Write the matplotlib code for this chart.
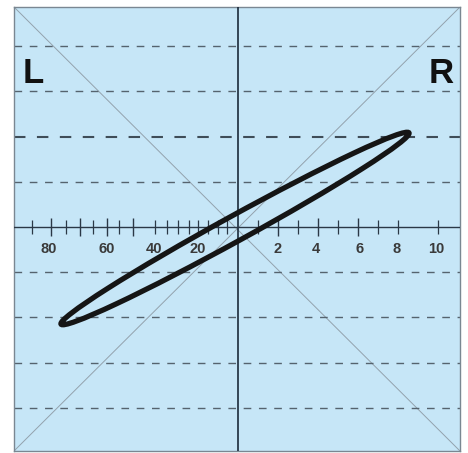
import matplotlib
matplotlib.use('Agg')
import matplotlib.pyplot as plt
from matplotlib.patches import Ellipse

# scale units: one step of the right hand scale
x_range = (-11.2, 11.1)
y_range = (-11.2, 11.0)

# dashed horizontal guide lines
guide_levels = [-9.05, -6.8, -4.5, -2.25, 2.25, 4.5, 6.8, 9.05]
bold_guide = 4.5

# ticks on the horizontal axis
major_ticks = [-9.35, -7.9, -6.55, -5.25, 2, 4, 6]
minor_ticks = [-10.3, -8.6, -7.25, -5.95, -4.15, -3.55, -3.0, -2.45, -2.0,
               -1.5, -1.0, -0.55, 1, 3, 5, 7, 8, 10]

# tick labels (left scale reversed, right scale linear)
left_labels = ['80', '60', '40', '20']
left_label_pos = [-9.45, -6.55, -4.2, -2.0]
right_labels = ['2', '4', '6', '8', '10']
right_label_pos = [2.0, 3.9, 6.1, 7.95, 9.9]

# phase ellipse
ell_center = (-0.15, -0.075)
ell_length = 19.85
ell_width = 1.25
ell_angle = 28.8

bg = '#c6e6f7'

fig = plt.figure(figsize=(4.68, 4.53), dpi=100)
ax = fig.add_axes([14/468, 2/453, 446/468, 444/453])
ax.set_facecolor(bg)
ax.set_xlim(*x_range)
ax.set_ylim(*y_range)
for s in ax.spines.values():
    s.set_color('#7a8792')
    s.set_linewidth(1.0)
ax.set_xticks([])
ax.set_yticks([])

# diagonals corner to corner
ax.plot([0, 1], [0, 1], transform=ax.transAxes, color='#93a2ad', lw=0.7, zorder=1)
ax.plot([0, 1], [1, 0], transform=ax.transAxes, color='#93a2ad', lw=0.7, zorder=1)

for lv in guide_levels:
    w = 1.5 if lv == bold_guide else 1.0
    c = '#3f4d58' if lv == bold_guide else '#55636e'
    ax.axhline(lv, color=c, lw=w, ls=(0, (5.5, 5.5)), zorder=2)

# axes cross
ax.axvline(0, color='#1b2a3a', lw=1.2, zorder=3)
ax.axhline(0, color='#2a3846', lw=1.0, zorder=3)

ax.vlines(major_ticks, -0.45, 0.45, color='#2a3846', lw=1.0, zorder=3)
ax.vlines(minor_ticks, -0.35, 0.35, color='#2a3846', lw=0.9, zorder=3)

for t, p in zip(left_labels, left_label_pos):
    ax.text(p, -1.1, t, ha='center', va='center', fontsize=10.5, fontweight='bold',
            family='Liberation Sans', color='#3a3a3a', zorder=4)
for t, p in zip(right_labels, right_label_pos):
    ax.text(p, -1.1, t, ha='center', va='center', fontsize=10.5, fontweight='bold',
            family='Liberation Sans', color='#3a3a3a', zorder=4)

ax.text(0.02, 0.85, 'L', transform=ax.transAxes, fontsize=25, fontweight='bold',
        family='Liberation Sans', color='#111111', va='center', ha='left')
ax.text(0.985, 0.85, 'R', transform=ax.transAxes, fontsize=25, fontweight='bold',
        family='Liberation Sans', color='#111111', va='center', ha='right')

ax.add_patch(Ellipse(ell_center, ell_length, ell_width, angle=ell_angle,
                     fill=False, edgecolor='#151515', lw=3.8, zorder=5))

fig.savefig('out.png', dpi=100)
